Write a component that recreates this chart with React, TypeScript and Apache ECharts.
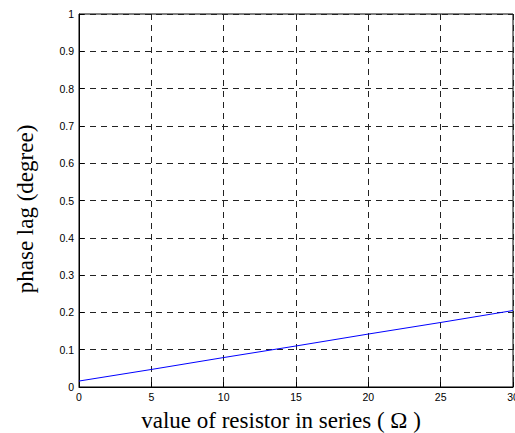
import React, { useEffect, useRef } from "react";
import * as echarts from "echarts";

const resistance = [0, 5, 10, 15, 20, 25, 30];
const phaseLag = [0.016, 0.047, 0.079, 0.11, 0.142, 0.173, 0.205];
const xTitle = "value of resistor in series ( Ω )";
const yTitle = "phase lag (degree)";

export default function App() {
  const ref = useRef<HTMLDivElement>(null);
  useEffect(() => {
    if (!ref.current) return;
    document.body.style.margin = "0";
    document.documentElement.style.overflow = "hidden";
    document.body.style.overflow = "hidden";
    const chart = echarts.init(ref.current, null, { renderer: "svg", width: 515, height: 433 });
    const tickFont = { fontFamily: "Liberation Sans, Arial, sans-serif", fontSize: 10.5, color: "#000" };
    chart.setOption({
      animation: false,
      backgroundColor: "#fff",
      grid: {
        left: 79, top: 14, right: 2, bottom: 46,
        outerBoundsMode: "none", containLabel: false,
        show: true, borderColor: "#000", borderWidth: 1, backgroundColor: "transparent",
      },
      xAxis: {
        type: "value",
        min: 0,
        max: 30,
        interval: 5,
        axisLine: { show: true, lineStyle: { color: "#000", width: 1 } },
        axisTick: { show: true, inside: true, length: 5, lineStyle: { color: "#000" } },
        axisLabel: { ...tickFont, margin: 4 },
        splitLine: { show: true, lineStyle: { color: "#222", type: [6, 5], width: 1 } },
      },
      yAxis: {
        type: "value",
        min: 0,
        max: 1,
        interval: 0.1,
        axisLine: { show: true, lineStyle: { color: "#000", width: 1 } },
        axisTick: { show: true, inside: true, length: 5, lineStyle: { color: "#000" } },
        axisLabel: { ...tickFont, margin: 5 },
        splitLine: { show: true, lineStyle: { color: "#222", type: [6, 5], width: 1 } },
      },
      series: [
        {
          type: "line",
          data: resistance.map((r, i) => [r, phaseLag[i]]),
          showSymbol: false,
          lineStyle: { color: "#0000ff", width: 1 },
        },
      ],
      graphic: [
        {
          type: "text",
          x: 281,
          y: 420,
          style: { text: xTitle, font: "23px 'Liberation Serif', 'Times New Roman', serif", fill: "#000", textAlign: "center", textVerticalAlign: "middle" },
        },
        {
          type: "text",
          x: 25,
          y: 209,
          rotation: Math.PI / 2,
          style: { text: yTitle, font: "23px 'Liberation Serif', 'Times New Roman', serif", fill: "#000", textAlign: "center", textVerticalAlign: "middle" },
        },
      ],
    });
    return () => chart.dispose();
  }, []);
  return <div ref={ref} style={{ position: "fixed", left: 0, top: 0, width: 515, height: 433 }} />;
}
